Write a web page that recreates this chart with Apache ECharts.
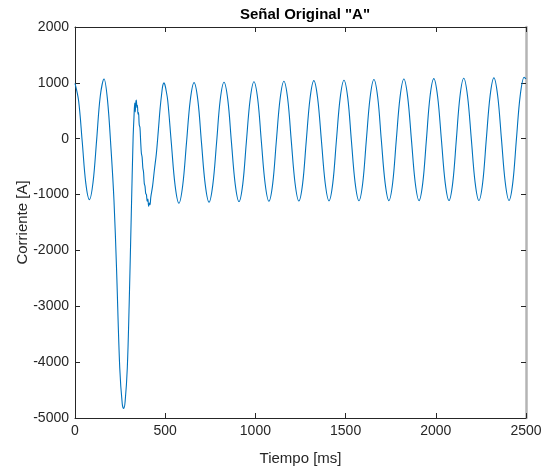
<!DOCTYPE html>
<html>
<head>
<meta charset="utf-8">
<script src="https://cdn.jsdelivr.net/npm/echarts@6/dist/echarts.min.js"></script>
<style>html,body{margin:0;padding:0;background:#fff;}#c{width:550px;height:468px;}</style>
</head>
<body>
<div id="c"></div>
<script>
var titleText = 'Señal Original "A"';
var xName = 'Tiempo [ms]';
var yName = 'Corriente [A]';
var xTicks = [0, 500, 1000, 1500, 2000, 2500];
var yTicks = [-5000, -4000, -3000, -2000, -1000, 0, 1000, 2000];

// Tiempo [ms]
var tiempo = [
  0, 20, 40, 60, 80, 100, 120, 140, 161, 180, 200, 216, 230, 248, 262, 270, 278, 290, 300, 312,
  322, 327, 331, 334, 337, 340, 343, 346, 349, 352, 356, 360, 364, 368, 372, 376, 380, 384, 388, 392,
  396, 400, 404, 408, 412, 416, 420, 430, 440, 451, 462, 472, 482, 487, 493, 498, 503, 514, 534, 555,
  576, 597, 618, 639, 660, 681, 701, 722, 743, 764, 785, 805, 826, 847, 867, 888, 909, 930, 950, 971,
  992, 1013, 1033, 1054, 1075, 1096, 1116, 1137, 1158, 1179, 1199, 1220, 1241, 1262, 1282, 1303, 1324, 1345, 1366, 1387,
  1408, 1429, 1449, 1470, 1491, 1512, 1532, 1553, 1574, 1595, 1615, 1636, 1657, 1678, 1698, 1719, 1740, 1761, 1781, 1802,
  1823, 1844, 1865, 1886, 1907, 1928, 1948, 1968, 1989, 2010, 2031, 2052, 2073, 2094, 2114, 2134, 2155, 2176, 2197, 2218,
  2239, 2260, 2280, 2301, 2322, 2343, 2364, 2385, 2406, 2427, 2447, 2468, 2490, 2500
];
// Corriente [A]
var corriente = [
  990, 680, -50, -800, -1090, -780, -20, 760, 1070, 700, -200, -1100, -2300, -4100, -4750, -4830, -4700, -4100, -3000, -1350,
  0, 390, 640, 480, 650, 690, 560, 600, 440, 470, 250, 200, -50, -260, -330, -520, -600, -800, -850, -980,
  -1000, -1120, -1080, -1210, -1150, -1180, -1050, -850, -560, -266, 150, 550, 850, 960, 1000, 970, 900, 684, -78, -840,
  -1155, -838, -75, 689, 1005, 691, -66, -823, -1137, -823, -63, 697, 1012, 699, -57, -813, -1125, -812, -53, 706,
  1020, 706, -50, -806, -1120, -805, -45, 715, 1030, 716, -43, -801, -1115, -800, -38, 724, 1040, 725, -36, -797,
  -1112, -796, -32, 732, 1048, 732, -31, -794, -1110, -792, -25, 742, 1060, 742, -24, -790, -1108, -789, -20, 749,
  1068, 749, -20, -789, -1108, -787, -16, 755, 1075, 756, -15, -786, -1106, -785, -12, 761, 1082, 761, -12, -785,
  -1106, -784, -8, 768, 1090, 769, -7, -783, -1105, -782, -3, 776, 1100, 1070
];

var data = tiempo.map(function (t, i) { return [t, corriente[i]]; });

var axisColor = '#262626';
var fontFam = '"Liberation Sans", Arial, Helvetica, sans-serif';
function plain(v) { return String(v); }

var chart = echarts.init(document.getElementById('c'), null, {renderer: 'canvas'});
chart.setOption({
  animation: false,
  backgroundColor: '#ffffff',
  title: {
    text: titleText,
    left: 300, top: 2, textAlign: 'center',
    textStyle: {fontFamily: fontFam, fontSize: 15, fontWeight: 'bold', color: '#000'}
  },
  grid: {left: 75, right: 24, top: 27, bottom: 50, containLabel: false, outerBoundsMode: 'none'},
  xAxis: [{
    type: 'value', min: xTicks[0], max: xTicks[xTicks.length - 1], interval: 500,
    name: xName, nameLocation: 'middle', nameGap: 33, nameMoveOverlap: false,
    nameTextStyle: {fontFamily: fontFam, fontSize: 15, color: axisColor},
    axisLine: {show: true, onZero: false, lineStyle: {color: axisColor, width: 1}},
    axisTick: {show: true, inside: true, length: 5, lineStyle: {color: axisColor}},
    axisLabel: {fontFamily: fontFam, fontSize: 14, color: axisColor, margin: 6, formatter: plain},
    splitLine: {show: false}
  }, {
    type: 'value', position: 'top', min: xTicks[0], max: xTicks[xTicks.length - 1], interval: 500,
    axisLine: {show: true, onZero: false, lineStyle: {color: axisColor, width: 1}},
    axisTick: {show: true, inside: true, length: 5, lineStyle: {color: axisColor}},
    axisLabel: {show: false}, splitLine: {show: false}
  }],
  yAxis: [{
    type: 'value', min: yTicks[0], max: yTicks[yTicks.length - 1], interval: 1000,
    name: yName, nameLocation: 'middle', nameGap: 45, nameRotate: 90, nameMoveOverlap: false,
    nameTextStyle: {fontFamily: fontFam, fontSize: 15, color: axisColor},
    axisLine: {show: true, onZero: false, lineStyle: {color: axisColor, width: 1}},
    axisTick: {show: true, inside: true, length: 5, lineStyle: {color: axisColor}},
    axisLabel: {fontFamily: fontFam, fontSize: 14, color: axisColor, margin: 6, formatter: plain},
    splitLine: {show: false}
  }, {
    type: 'value', position: 'right', min: yTicks[0], max: yTicks[yTicks.length - 1], interval: 1000,
    axisLine: {show: true, onZero: false, lineStyle: {color: '#b4b4b4', width: 2.5}},
    axisTick: {show: true, inside: true, length: 5, lineStyle: {color: axisColor}},
    axisLabel: {show: false}, splitLine: {show: false}
  }],
  series: [{
    type: 'line', data: data, xAxisIndex: 0, yAxisIndex: 0,
    showSymbol: false, smooth: 0.35,
    lineStyle: {color: '#0072BD', width: 1.1}
  }]
});
</script>
</body>
</html>
